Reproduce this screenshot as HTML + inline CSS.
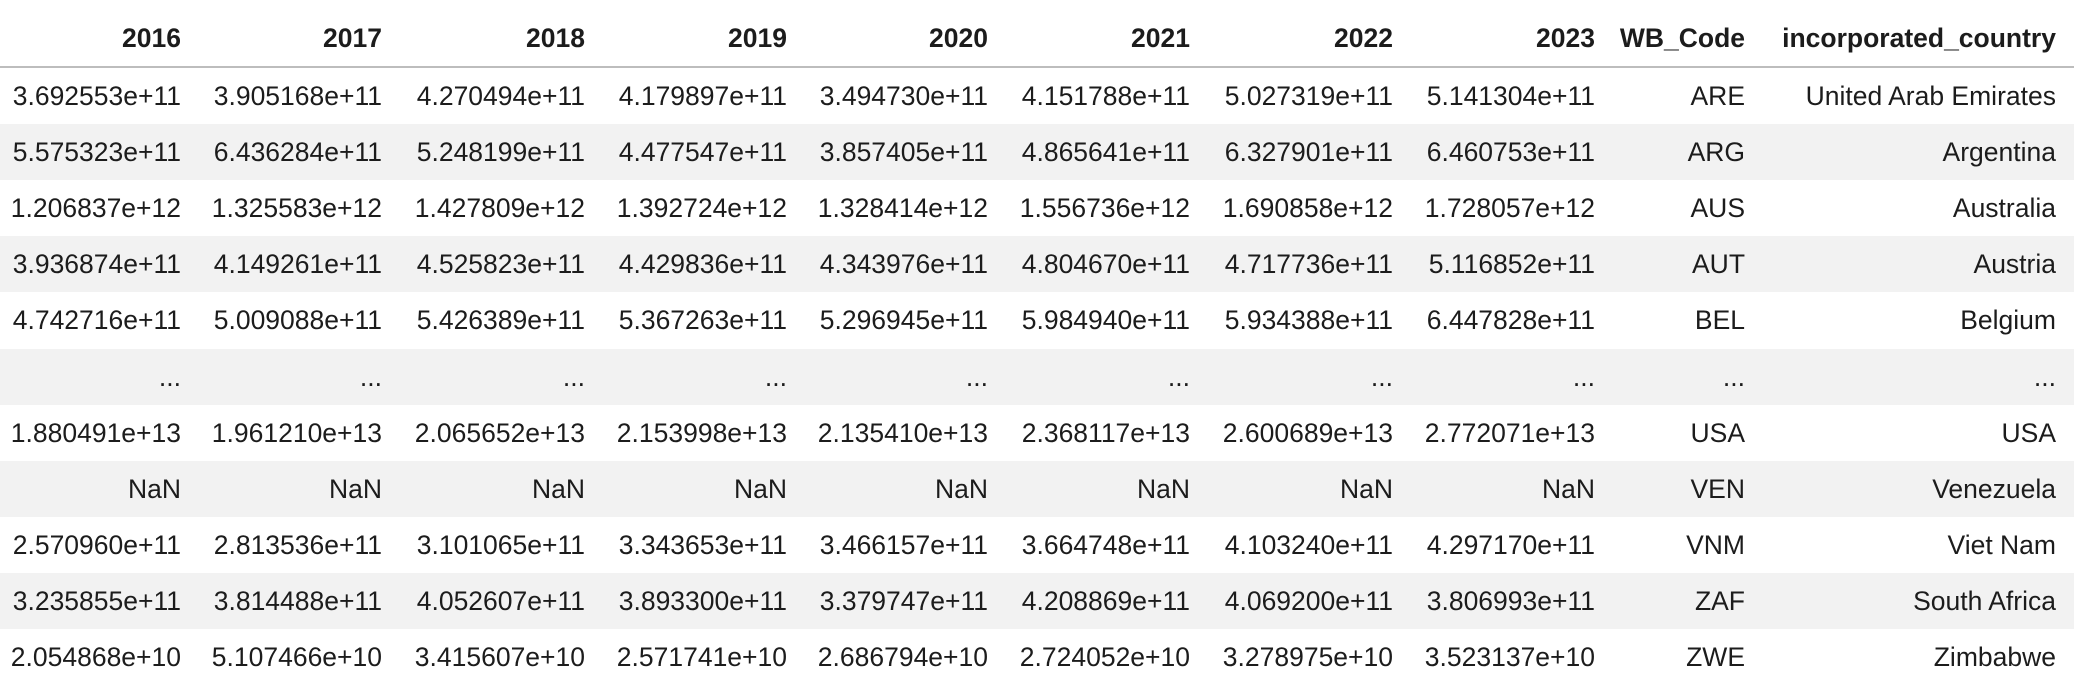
<!DOCTYPE html>
<html><head><meta charset="utf-8">
<style>
html,body{margin:0;padding:0;background:#fff;width:2074px;height:690px;overflow:hidden;}
body{font-family:"Liberation Sans",Arial,sans-serif;color:#1c1c1c;position:relative;}
.row{position:absolute;left:0;width:2074px;height:56px;}
.grey{background:#f2f2f2;}
.c{position:absolute;white-space:nowrap;text-align:right;font-size:26.5px;line-height:56px;top:0;}
.h .c{font-weight:bold;line-height:76px;}
#hline{position:absolute;left:0;top:66px;width:2074px;height:2px;background:#bdbdbd;}
</style></head>
<body>
<div id="hline"></div>
<script>
const columns=["2016","2017","2018","2019","2020","2021","2022","2023","WB_Code","incorporated_country"];
const rows=[
["3.692553e+11","3.905168e+11","4.270494e+11","4.179897e+11","3.494730e+11","4.151788e+11","5.027319e+11","5.141304e+11","ARE","United Arab Emirates"],
["5.575323e+11","6.436284e+11","5.248199e+11","4.477547e+11","3.857405e+11","4.865641e+11","6.327901e+11","6.460753e+11","ARG","Argentina"],
["1.206837e+12","1.325583e+12","1.427809e+12","1.392724e+12","1.328414e+12","1.556736e+12","1.690858e+12","1.728057e+12","AUS","Australia"],
["3.936874e+11","4.149261e+11","4.525823e+11","4.429836e+11","4.343976e+11","4.804670e+11","4.717736e+11","5.116852e+11","AUT","Austria"],
["4.742716e+11","5.009088e+11","5.426389e+11","5.367263e+11","5.296945e+11","5.984940e+11","5.934388e+11","6.447828e+11","BEL","Belgium"],
["...","...","...","...","...","...","...","...","...","..."],
["1.880491e+13","1.961210e+13","2.065652e+13","2.153998e+13","2.135410e+13","2.368117e+13","2.600689e+13","2.772071e+13","USA","USA"],
["NaN","NaN","NaN","NaN","NaN","NaN","NaN","NaN","VEN","Venezuela"],
["2.570960e+11","2.813536e+11","3.101065e+11","3.343653e+11","3.466157e+11","3.664748e+11","4.103240e+11","4.297170e+11","VNM","Viet Nam"],
["3.235855e+11","3.814488e+11","4.052607e+11","3.893300e+11","3.379747e+11","4.208869e+11","4.069200e+11","3.806993e+11","ZAF","South Africa"],
["2.054868e+10","5.107466e+10","3.415607e+10","2.571741e+10","2.686794e+10","2.724052e+10","3.278975e+10","3.523137e+10","ZWE","Zimbabwe"]
];
const rights=[181,382,585,787,988,1190,1393,1595,1745,2056];
function cell(parent,text,i){
  const d=document.createElement('div');
  d.className='c';
  d.style.right=(2074-rights[i])+'px';
  d.textContent=text;
  
  
  parent.appendChild(d);
}
const h=document.createElement('div');
h.className='row h';h.style.top='0px';h.style.height='66px';


columns.forEach((c,i)=>cell(h,c,i));
document.body.appendChild(h);
rows.forEach((r,k)=>{
  const d=document.createElement('div');
  d.className='row'+(k%2===1?' grey':'');
  d.style.top=(68+k*56.1)+'px';
  
  
  r.forEach((v,i)=>cell(d,v,i));
  document.body.appendChild(d);
});
</script>
</body></html>
